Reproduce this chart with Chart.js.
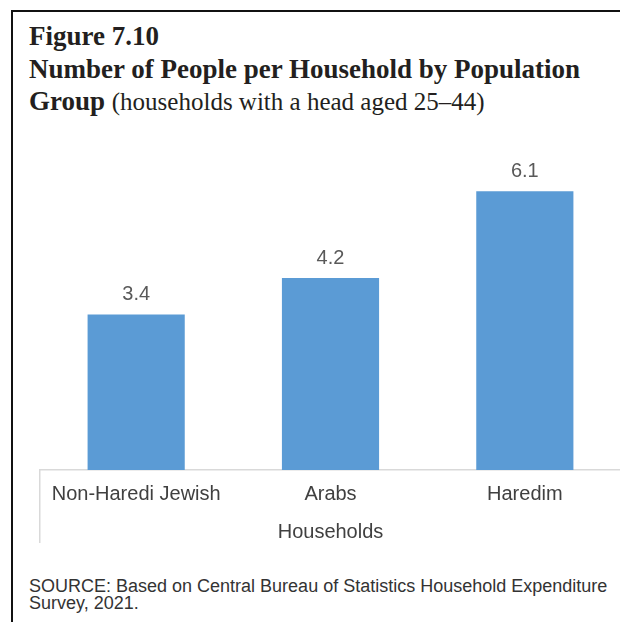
<!DOCTYPE html>
<html>
<head>
<meta charset="utf-8">
<title>Figure 7.10</title>
<script src="https://cdn.jsdelivr.net/npm/chart.js@4.4.1/dist/chart.umd.min.js"></script>
<style>
    html, body {
        margin: 0;
        padding: 0;
        width: 620px;
        height: 622px;
        overflow: hidden;
        background: #fff;
    }
    .frame {
        position: absolute;
        left: 11px;
        top: 10px;
        right: -4px;
        bottom: -4px;
        border-top: 2px solid #111;
        border-left: 2px solid #111;
    }
    .heading {
        position: absolute;
        left: 29px;
        font-family: "Liberation Serif", "Times New Roman", serif;
        font-size: 27px;
        line-height: 27px;
        font-weight: bold;
        color: #231f20;
        white-space: nowrap;
    }
    .heading .sub {
        font-weight: normal;
        font-size: 25px;
    }
    #chartBox {
        position: absolute;
        left: 39px;
        top: 150px;
        width: 583px;
        height: 394px;
    }
    .source {
        position: absolute;
        left: 29px;
        top: 578px;
        font-family: "Liberation Sans", Arial, sans-serif;
        font-size: 18px;
        line-height: 16.5px;
        color: #333;
        white-space: nowrap;
    }
</style>
</head>
<body>
<div class="frame"></div>
<div class="heading" style="top:23px">Figure 7.10</div>
<div class="heading" style="top:55.5px">Number of People per Household by Population</div>
<div class="heading" style="top:88px">Group <span class="sub">(households with a head aged 25–44)</span></div>
<div id="chartBox"><canvas id="householdChart"></canvas></div>
<div class="source">SOURCE: Based on Central Bureau of Statistics Household Expenditure<br>Survey, 2021.</div>

<script>
    // Data
    var categories = ['Non-Haredi Jewish', 'Arabs', 'Haredim'];
    var peoplePerHousehold = [3.4, 4.2, 6.1];
    var axisTitle = 'Households';

    var FONT = '"Liberation Sans", Arial, sans-serif';

    // value printed above each bar
    var barValueLabels = {
        id: 'barValueLabels',
        afterDatasetsDraw: function (chart) {
            var ctx = chart.ctx;
            var meta = chart.getDatasetMeta(0);
            ctx.save();
            ctx.font = '20px ' + FONT;
            ctx.fillStyle = '#595959';
            ctx.textAlign = 'center';
            ctx.textBaseline = 'alphabetic';
            meta.data.forEach(function (bar, i) {
                var v = chart.data.datasets[0].data[i];
                ctx.fillText(v.toFixed(1), bar.x, bar.y - 14.5);
            });
            ctx.restore();
        }
    };

    // short vertical rule at the left end of the category axis
    var axisLeftRule = {
        id: 'axisLeftRule',
        afterDraw: function (chart) {
            var x = chart.scales.x;
            var ctx = chart.ctx;
            ctx.save();
            ctx.strokeStyle = '#d9d9d9';
            ctx.lineWidth = 1.5;
            ctx.beginPath();
            ctx.moveTo(x.left + 0.75, x.top);
            ctx.lineTo(x.left + 0.75, x.bottom - 1);
            ctx.stroke();
            ctx.restore();
        }
    };

    var ctx = document.getElementById('householdChart').getContext('2d');
    new Chart(ctx, {
        type: 'bar',
        data: {
            labels: categories,
            datasets: [{
                data: peoplePerHousehold,
                backgroundColor: '#5b9bd5',
                borderWidth: 0,
                barPercentage: 0.5,
                categoryPercentage: 1.0
            }]
        },
        options: {
            responsive: true,
            maintainAspectRatio: false,
            animation: false,
            layout: { padding: 0 },
            plugins: {
                legend: { display: false },
                tooltip: { enabled: false }
            },
            scales: {
                x: {
                    grid: { display: true, drawOnChartArea: false, drawTicks: false },
                    border: { display: true, color: '#d9d9d9', width: 1.5 },
                    ticks: {
                        padding: 12,
                        color: '#404040',
                        font: { family: FONT, size: 20 }
                    },
                    title: {
                        display: true,
                        text: axisTitle,
                        color: '#404040',
                        padding: { top: 2, bottom: 0 },
                        font: { family: FONT, size: 20 }
                    }
                },
                y: {
                    display: false,
                    min: 0,
                    max: 7
                }
            }
        },
        plugins: [barValueLabels, axisLeftRule]
    });
</script>
</body>
</html>
